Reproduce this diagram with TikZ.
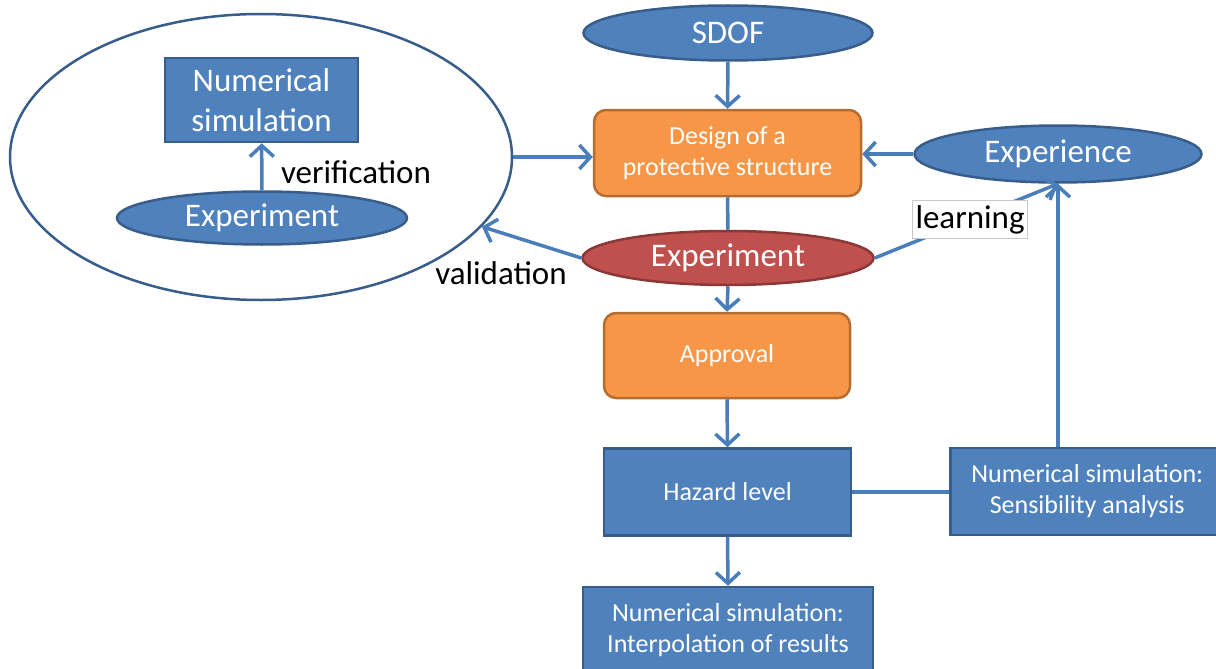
\documentclass[tikz,border=0pt]{standalone}
\usepackage{fontspec}
\setmainfont{Carlito}
\usetikzlibrary{arrows.meta,shapes.geometric}
\definecolor{bluefill}{HTML}{4F81BD}
\definecolor{blueline}{HTML}{385D8A}
\definecolor{arrowblue}{HTML}{4A7EBB}
\definecolor{orangefill}{HTML}{F79646}
\definecolor{orangeline}{HTML}{B66D31}
\definecolor{redfill}{HTML}{C0504D}
\definecolor{redline}{HTML}{8C3836}
\definecolor{labelframe}{HTML}{C8C8C8}

\tikzset{
  bigtext/.style={font=\fontsize{33}{40}\selectfont},
  smalltext/.style={font=\fontsize{26}{31}\selectfont},
  blueellipse/.style={ellipse, draw=blueline, fill=bluefill, line width=2.5pt,
    text=white, inner sep=0pt, bigtext},
  redellipse/.style={ellipse, draw=redline, fill=redfill, line width=2.5pt,
    text=white, inner sep=0pt, bigtext},
  orangebox/.style={rectangle, rounded corners=12pt, draw=orangeline, fill=orangefill,
    line width=2.5pt, text=white, inner sep=0pt, align=center, smalltext},
  bluebox/.style={rectangle, draw=blueline, fill=bluefill, line width=2.5pt,
    text=white, inner sep=0pt, align=center, smalltext},
  groupframe/.style={ellipse, draw=blueline, fill=white, line width=2.5pt, inner sep=0pt},
  arr/.style={draw=arrowblue, line width=3.5pt,
    -{Straight Barb[length=11pt, width=24pt, line width=3.5pt]}},
  plainline/.style={draw=arrowblue, line width=3.5pt},
  caption/.style={text=black, bigtext, inner sep=2pt},
  framedcaption/.style={caption, fill=white, draw=labelframe, line width=0.8pt,
    inner xsep=3pt, inner ysep=5pt}
}

\begin{document}
\begin{tikzpicture}[x=1pt, y=-1pt]
  \path[use as bounding box, clip] (0,0) rectangle (1216,669);

  % grouped verification loop on the left
  \node[groupframe, minimum width=502pt, minimum height=286pt] (group) at (261,157) {};
  \node[bluebox, bigtext, minimum width=193pt, minimum height=84pt] (numsim) at (261.5,100)
    {Numerical\\simulation};
  \node[blueellipse, minimum width=290pt, minimum height=53pt] (innerexp) at (262,218) {Experiment};
  \draw[arr] (innerexp) -- (numsim);
  \node[caption] (verif) at (356,172) {verification};

  % main design chain
  \node[blueellipse, minimum width=289pt, minimum height=55pt] (sdof) at (728,33) {SDOF};
  \node[orangebox, minimum width=267pt, minimum height=86pt] (design) at (727.5,153)
    {Design of a\\protective structure};
  \node[blueellipse, minimum width=287pt, minimum height=57pt] (experience) at (1058,154) {Experience};
  \node[redellipse, minimum width=291pt, minimum height=54pt] (test) at (728,258) {Experiment};
  \node[orangebox, minimum width=246pt, minimum height=85pt] (approval) at (727,355.5) {Approval};
  \node[bluebox, minimum width=247pt, minimum height=87pt] (hazard) at (727.5,492) {Hazard level};
  \node[bluebox, minimum width=290pt, minimum height=86pt] (interp) at (728,630)
    {Numerical simulation:\\Interpolation of results};
  \node[bluebox, anchor=west, minimum width=280pt, minimum height=87pt] (sens) at (949,491.5)
    {\begin{tabular}{@{}c@{}}Numerical simulation:\\Sensibility analysis\end{tabular}\hspace*{6pt}};

  % connectors
  \draw[arr] (sdof.south) -- (design.north);
  \draw[arr] (experience.west) -- (design.east |- experience.west);
  \draw[arr] (group.east) -- (design.west |- group.east);
  \draw[plainline] (design.south) -- (test.north);
  \draw[arr] (test.south) -- (approval.north);
  \draw[arr] (approval.south) -- (hazard.north);
  \draw[arr] (hazard.south) -- (interp.north);
  \draw[plainline] (hazard.east) -- (sens.west |- hazard.east);
  \draw[arr] (experience.south |- sens.north) -- (experience.south);
  \draw[arr] (test.west) -- (group);
  \node[caption] (valid) at (501,273) {validation};
  \draw[arr] (test.east) -- node[framedcaption, pos=0.52] (learn) {learning} (experience.south);
\end{tikzpicture}
\end{document}
